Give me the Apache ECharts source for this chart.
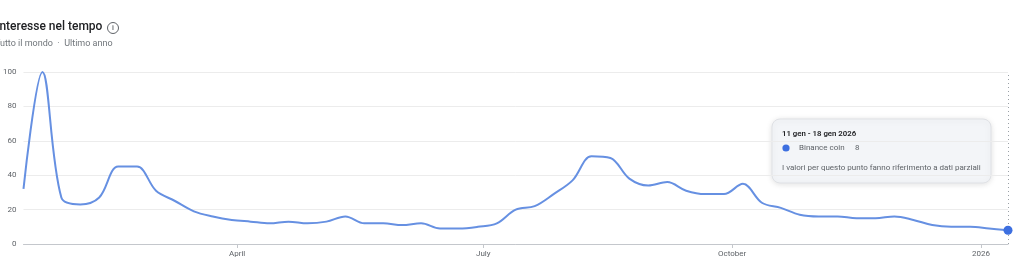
<!DOCTYPE html>
<html>
<head>
<meta charset="utf-8">
<script src="https://cdn.jsdelivr.net/npm/echarts@6/dist/echarts.min.js"></script>
<style>
  html, body { margin: 0; padding: 0; background: #ffffff; }
  #chart { width: 1024px; height: 264px; }
</style>
</head>
<body>
<div id="chart"></div>
<script>
// Weekly search interest, weeks starting on Sunday
const firstWeek = '2025-01-12';
const weekCount = 53;
const interest = [
  32, 100, 27, 23, 27, 45, 45, 31, 25, 19,
  16, 14, 13, 12, 13, 12, 13, 16, 12, 12,
  11, 12, 9, 9, 10, 12, 20, 22, 29, 37,
  51, 50, 38, 34, 36, 31, 29, 29, 35, 24,
  21, 17, 16, 16, 15, 15, 16, 14, 11, 10,
  10, 9, 8
];
const seriesName = 'Binance coin';
const monthTicks = ['2025-04-01', '2025-07-01', '2025-10-01', '2026-01-01'];
const monthLabels = ['April', 'July', 'October', '2026'];
const yTicks = [0, 20, 40, 60, 80, 100];
const titleText = 'Interesse nel tempo';
const subtitleText = 'Tutto il mondo  ·  Ultimo anno';
const tipRange = '11 gen - 18 gen 2026';
const tipNote = 'I valori per questo punto fanno riferimento a dati parziali';

// x positions are days elapsed since the first week
const DAY = 86400000;
const start = Date.parse(firstWeek + 'T00:00:00Z');
const points = interest.slice(0, weekCount).map((v, i) => [i * 7, v]);
const tickDays = monthTicks.map(d => Math.round((Date.parse(d + 'T00:00:00Z') - start) / DAY));
const last = points[points.length - 1];

const lineColor = '#6690e2';
const dotColor = '#3d6fe0';
const font = 'Roboto, "Noto Sans", sans-serif';

const chart = echarts.init(document.getElementById('chart'), null, { renderer: 'canvas' });
chart.setOption({
  animation: false,
  grid: { left: 21, right: 16, top: 72, bottom: 20, containLabel: false },
  xAxis: {
    type: 'value',
    min: 0,
    max: last[0],
    axisLine: { show: true, onZero: false, lineStyle: { color: '#c4c7cc', width: 1 } },
    axisTick: {
      show: true, length: 4, inside: false,
      customValues: tickDays,
      lineStyle: { color: '#c4c7cc' }
    },
    axisLabel: {
      customValues: tickDays,
      color: '#5f6368', fontSize: 8, fontFamily: font, margin: 6,
      formatter: v => {
        const k = tickDays.indexOf(v);
        return k >= 0 ? monthLabels[k] : '';
      }
    },
    splitLine: { show: false }
  },
  yAxis: {
    type: 'value',
    min: yTicks[0],
    max: yTicks[yTicks.length - 1],
    interval: yTicks[1] - yTicks[0],
    axisLine: { show: false },
    axisTick: { show: false },
    axisLabel: { color: '#5f6368', fontSize: 8, fontFamily: font, margin: 7 },
    splitLine: { lineStyle: { color: '#ececec', width: 1 } }
  },
  series: [{
    type: 'line',
    name: seriesName,
    data: points,
    smooth: 0.35,
    symbol: 'none',
    lineStyle: { color: lineColor, width: 2 },
    markLine: {
      silent: true,
      symbol: 'none',
      label: { show: false },
      lineStyle: { color: '#9aa0a6', type: [1, 3], width: 1 },
      data: [{ xAxis: last[0] }]
    },
    markPoint: {
      silent: true,
      symbol: 'circle',
      symbolSize: 9,
      itemStyle: { color: dotColor },
      label: { show: false },
      data: [{ coord: last }]
    }
  }],
  graphic: [
    {
      type: 'text', left: -4, top: 21,
      style: { text: titleText, font: '500 12px ' + font, fill: '#202124' }
    },
    {
      type: 'circle', shape: { cx: 113, cy: 28, r: 5.5 },
      style: { fill: 'none', stroke: '#5f6368', lineWidth: 1 }
    },
    {
      type: 'text', x: 113, y: 28.5,
      style: { text: 'i', font: '500 7.5px ' + font, fill: '#5f6368', align: 'center', verticalAlign: 'middle' }
    },
    {
      type: 'text', left: -5, top: 39,
      style: { text: subtitleText, font: '9px ' + font, fill: '#70757a' }
    },
    {
      type: 'group', x: 772, y: 119,
      children: [
        {
          type: 'rect', shape: { x: 0, y: 0, width: 219, height: 64, r: 8 },
          style: {
            fill: '#f3f5f8', stroke: '#dfe1e5', lineWidth: 1,
            shadowBlur: 6, shadowColor: 'rgba(0,0,0,0.12)', shadowOffsetY: 1
          }
        },
        {
          type: 'text', x: 10, y: 15,
          style: { text: tipRange, font: '600 7.8px ' + font, fill: '#202124', verticalAlign: 'middle' }
        },
        {
          type: 'circle', shape: { cx: 14, cy: 29, r: 3.6 },
          style: { fill: dotColor }
        },
        {
          type: 'text', x: 27, y: 29,
          style: { text: seriesName, font: '8px ' + font, fill: '#5f6368', verticalAlign: 'middle' }
        },
        {
          type: 'text', x: 83, y: 29,
          style: { text: String(last[1]), font: '8px ' + font, fill: '#5f6368', verticalAlign: 'middle' }
        },
        {
          type: 'text', x: 10, y: 49,
          style: { text: tipNote, font: '8px ' + font, fill: '#5f6368', verticalAlign: 'middle' }
        }
      ]
    }
  ]
});
</script>
</body>
</html>
